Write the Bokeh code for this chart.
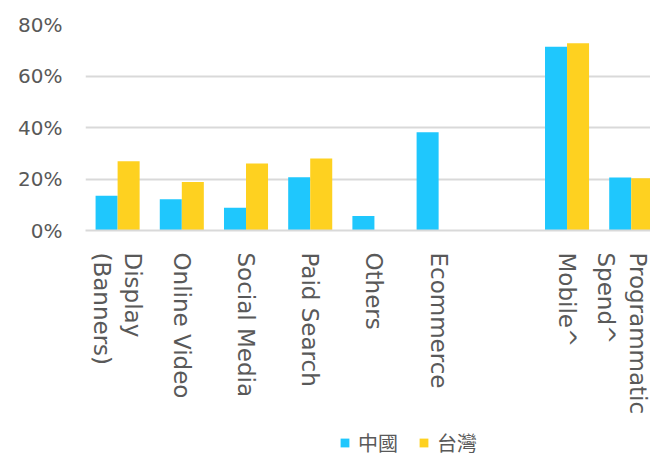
import math
from bokeh.plotting import figure
from bokeh.layouts import column
from bokeh.models import (Range1d, FixedTicker, PrintfTickFormatter, Legend, LegendItem,
                          ColumnDataSource)
from bokeh.embed import file_html
from bokeh.resources import INLINE

# ---- data ----
categories = ["Display\n(Banners)", "Online Video", "Social Media", "Paid Search",
              "Others", "Ecommerce", "", "Mobile^", "Programmatic\nSpend^"]
china = [13.5, 12.1, 8.8, 20.7, 5.6, 38.2, None, 71.4, 20.6]
taiwan = [26.9, 18.8, 26.0, 28.0, None, None, None, 72.7, 20.3]
series_names = ["中國", "台灣"]
y_ticks = [0, 20, 40, 60, 80]

BLUE = "#1FC7FD"
YELLOW = "#FED120"
GRAY_TEXT = "#595959"
GRID = "#D9D9D9"

idx = list(range(len(categories)))
bar_w = 0.343

def clean(vals):
    return [float("nan") if v is None else v for v in vals]

src = ColumnDataSource(dict(
    xc=[i - bar_w / 2 for i in idx],
    xt=[i + bar_w / 2 for i in idx],
    china=clean(china),
    taiwan=clean(taiwan),
))

p = figure(width=650, height=426, output_backend="svg", toolbar_location=None,
           x_range=Range1d(-0.5, 8.3), y_range=Range1d(0, 80),
           min_border_left=85, min_border_right=0, min_border_top=24,
           min_border_bottom=196)
p.outline_line_color = None
p.background_fill_color = "white"
p.border_fill_color = "white"

p.vbar(x="xc", top="china", width=bar_w, bottom=0, source=src,
       fill_color=BLUE, line_color=None)
p.vbar(x="xt", top="taiwan", width=bar_w, bottom=0, source=src,
       fill_color=YELLOW, line_color=None)

# x axis
p.xaxis.ticker = FixedTicker(ticks=[i for i, c in zip(idx, categories) if c])
p.xaxis.major_label_overrides = {i: c for i, c in zip(idx, categories) if c}
p.xaxis.major_label_orientation = -math.pi / 2
p.xaxis.major_tick_line_color = None
p.xaxis.minor_tick_line_color = None
p.xaxis.axis_line_color = GRID
p.xaxis.axis_line_width = 2
p.xaxis.major_label_standoff = 16
p.xaxis.major_label_text_font = "DejaVu Sans"
p.xaxis.major_label_text_font_size = "23px"
p.xaxis.major_label_text_color = GRAY_TEXT
p.xgrid.grid_line_color = None

# y axis
p.yaxis.ticker = FixedTicker(ticks=y_ticks)
p.yaxis.formatter = PrintfTickFormatter(format="%d%%")
p.yaxis.axis_line_color = None
p.yaxis.major_tick_line_color = None
p.yaxis.minor_tick_line_color = None
p.yaxis.major_label_standoff = 17
p.yaxis.major_label_text_font = "DejaVu Sans"
p.yaxis.major_label_text_font_size = "20px"
p.yaxis.major_label_text_color = GRAY_TEXT
p.ygrid.grid_line_color = GRID
p.ygrid.grid_line_width = 2

# legend strip below the chart
lg = figure(width=650, height=31, output_backend="svg", toolbar_location=None,
            x_range=Range1d(0, 1), y_range=Range1d(0, 1),
            x_axis_location=None, y_axis_location=None,
            min_border=0, min_border_left=0, min_border_right=0,
            min_border_top=0, min_border_bottom=0)
lg.grid.visible = False
lg.outline_line_color = None
lg.border_fill_color = "white"
lg.background_fill_color = "white"
# zero-height bars: they only supply the legend swatches
swatch = ColumnDataSource(dict(x=[0], top=[0]))
l1 = lg.vbar(x="x", top="top", bottom=0, width=0.01, source=swatch,
             fill_color=BLUE, line_color=None)
l2 = lg.vbar(x="x", top="top", bottom=0, width=0.01, source=swatch,
             fill_color=YELLOW, line_color=None)

legend = Legend(items=[LegendItem(label=series_names[0], renderers=[l1]),
                       LegendItem(label=series_names[1], renderers=[l2])],
                location=(254, 0), orientation="horizontal",
                glyph_width=11, glyph_height=11, label_standoff=8, spacing=20,
                padding=0, margin=0, border_line_color=None,
                background_fill_alpha=0,
                label_text_font="Noto Sans CJK TC", label_text_font_size="20px",
                label_text_color=GRAY_TEXT)
lg.add_layout(legend, "center")

layout = column(p, lg, spacing=0)
open("out.html", "w").write(file_html(layout, INLINE))
